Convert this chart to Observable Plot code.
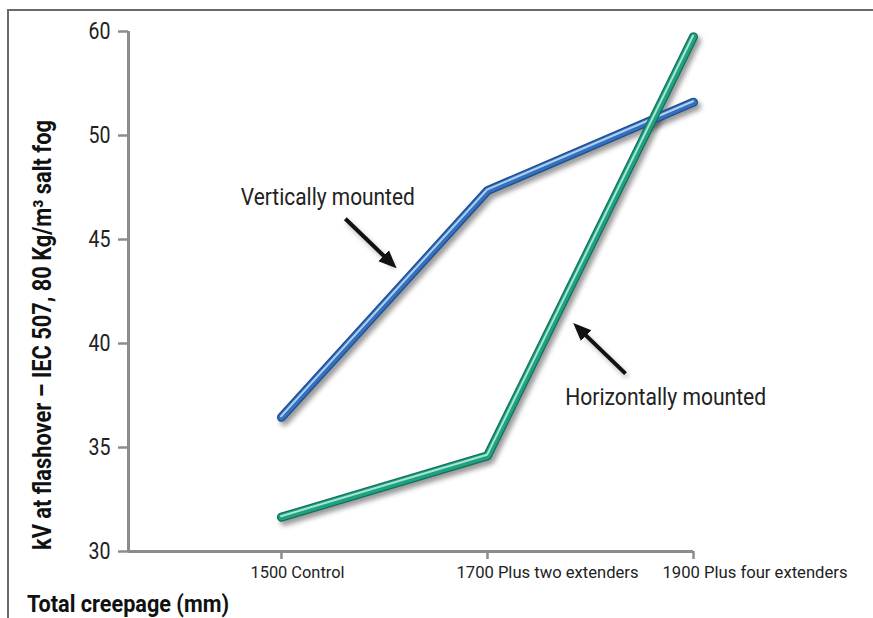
<!DOCTYPE html>
<html>
<head>
<meta charset="utf-8">
<script src="https://cdn.jsdelivr.net/npm/d3@7"></script>
<script src="https://cdn.jsdelivr.net/npm/@observablehq/plot@0.6"></script>
<style>
  html, body { margin: 0; padding: 0; background: #fff; }
  #wrap { position: relative; width: 873px; height: 618px; overflow: hidden; }
  #frame { position: absolute; left: 7px; top: 9px; right: -5px; bottom: -5px;
           border-top: 2px solid #6a6a6a; border-left: 2px solid #6a6a6a; }
  #chart { position: absolute; left: 0; top: 0; }
  svg { font-family: Roboto, "Liberation Sans", sans-serif; }
</style>
</head>
<body>
<div id="wrap"><div id="frame"></div><div id="chart"></div></div>
<script>
const categories = [1500, 1700, 1900];
const categoryLabels = ["1500 Control", "1700 Plus two extenders", "1900 Plus four extenders"];
const vertical = [36.45, 47.35, 51.6];
const horizontal = [31.65, 34.6, 54.75];
const yTicks = [30, 35, 40, 45, 50, 55];
const yTickLabels = ["30", "35", "40", "45", "50", "60"];
const xDomain = [1351.5, 1900];
const yDomain = [30, 55];
const xTitle = "Total creepage (mm)";
const yTitle = "kV at flashover – IEC 507, 80 Kg/m³ salt fog";

const annotations = [
  {label: "Vertically mounted", x: 1545, y: 47.05},
  {label: "Horizontally mounted", x: 1873, y: 37.4}
];
const arrows = [
  {x1: 1562, y1: 46.0, x2: 1608, y2: 43.8},
  {x1: 1834, y1: 38.55, x2: 1787, y2: 40.8}
];

// font size and width (px) per text, to mimic the condensed typeface of the original
const textStyle = {
  "1500 Control": [16, 94], "1700 Plus two extenders": [16, 182], "1900 Plus four extenders": [16, 185],
  "Vertically mounted": [24, 174], "Horizontally mounted": [24, 201],
  "30": [23, 22], "35": [23, 22], "40": [23, 22], "45": [23, 22], "50": [23, 22], "60": [23, 22]
};

const series = [
  {name: "Vertically mounted", values: vertical, main: "#3370bd", dark: "#1d4d8f", light: "#b3d0f0"},
  {name: "Horizontally mounted", values: horizontal, main: "#1fa182", dark: "#12705a", light: "#a6e5d3"}
];
const rows = series.flatMap(s => categories.map((c, i) => ({series: s.name, x: c, y: s.values[i]})));

const lineMarks = [];
for (const s of series) {
  const d = rows.filter(r => r.series === s.name);
  lineMarks.push(Plot.line(d, {x: "x", y: "y", stroke: "#000", strokeOpacity: 0.4, strokeWidth: 9, dx: 3, dy: 4, strokeLinejoin: "round", strokeLinecap: "round"}));
}
for (const s of series) {
  const d = rows.filter(r => r.series === s.name);
  lineMarks.push(Plot.line(d, {x: "x", y: "y", stroke: s.dark, strokeWidth: 9, strokeLinejoin: "round", strokeLinecap: "round"}));
  lineMarks.push(Plot.line(d, {x: "x", y: "y", stroke: s.main, strokeWidth: 6.5, strokeLinejoin: "round", strokeLinecap: "round"}));
  lineMarks.push(Plot.line(d, {x: "x", y: "y", stroke: s.light, strokeWidth: 2, dx: -0.5, dy: -1, strokeLinejoin: "round", strokeLinecap: "round"}));
}

const chart = Plot.plot({
  width: 873,
  height: 618,
  marginTop: 31,
  marginBottom: 67,
  marginLeft: 128,
  marginRight: 180,
  style: {background: "transparent", color: "#222", overflow: "visible"},
  x: {type: "linear", domain: xDomain, ticks: categories, tickFormat: v => categoryLabels[categories.indexOf(v)], tickSize: 8, tickPadding: 7, label: null},
  y: {domain: yDomain, ticks: yTicks, tickFormat: v => yTickLabels[yTicks.indexOf(v)], tickSize: 10, tickPadding: 8, label: null},
  marks: [
    Plot.ruleX([xDomain[0]], {y1: yDomain[0], y2: yDomain[1], stroke: "#8c8c8c", strokeWidth: 3}),
    Plot.ruleY([yDomain[0]], {x1: xDomain[0], x2: xDomain[1], stroke: "#8c8c8c", strokeWidth: 3}),
    ...lineMarks,
    Plot.link(arrows, {x1: "x1", y1: "y1", x2: "x2", y2: "y2", stroke: "#000", strokeOpacity: 0.3, strokeWidth: 4, dx: 2, dy: 3}),
    Plot.link(arrows, {x1: "x1", y1: "y1", x2: "x2", y2: "y2", stroke: "#111", strokeWidth: 4, markerEnd: "arrow"}),
    Plot.text(annotations, {x: "x", y: "y", text: "label", fontSize: 24, fill: "#222"})
  ]
});

const svg = d3.select(chart);
const defs = svg.insert("defs", ":first-child");
defs.append("filter").attr("id", "blur").attr("x", "-20%").attr("y", "-20%").attr("width", "140%").attr("height", "140%")
  .append("feGaussianBlur").attr("stdDeviation", 2.5);
// blur every shadow (black, translucent strokes)
svg.selectAll("g, path").filter(function() {
  return this.getAttribute("stroke") === "#000" && this.getAttribute("stroke-opacity") != null;
}).attr("filter", "url(#blur)");
// turn the built-in open arrowheads into filled triangles
svg.selectAll("marker").each(function() {
  d3.select(this).attr("viewBox", "-5 -5 10 10").attr("markerUnits", "userSpaceOnUse")
    .attr("markerWidth", 18).attr("markerHeight", 18).attr("refX", 2).attr("refY", 0).attr("orient", "auto");
  d3.select(this).selectAll("*").remove();
  d3.select(this).append("path").attr("d", "M-5,-4.2 L5,0 L-5,4.2 Z").attr("fill", "#111").attr("stroke", "none");
});

svg.selectAll("text").each(function() {
  const st = textStyle[this.textContent.trim()];
  if (!st) return;
  const el = d3.select(this);
  el.attr("font-size", st[0]).style("font-size", st[0] + "px");
  const tspans = el.selectAll("tspan");
  const target = tspans.empty() ? el : tspans;
  target.attr("textLength", st[1]).attr("lengthAdjust", "spacingAndGlyphs");
  if (categoryLabels.includes(this.textContent.trim())) {
    el.attr("text-anchor", "start").style("text-anchor", "start").attr("dx", -31);
  }
});
svg.selectAll('g[aria-label^="x-axis"] path, g[aria-label^="x-axis"] line, g[aria-label^="y-axis"] path, g[aria-label^="y-axis"] line')
  .attr("stroke", "#8c8c8c").attr("stroke-width", 2.5);

svg.append("text").text(xTitle)
  .attr("x", 128).attr("y", 612).attr("font-size", 24).attr("font-weight", "bold").attr("fill", "#111")
  .attr("textLength", 202).attr("lengthAdjust", "spacingAndGlyphs");
svg.append("text").text(yTitle)
  .attr("transform", "translate(51,335) rotate(-90)").attr("text-anchor", "middle")
  .attr("font-size", 25).attr("font-weight", "bold").attr("fill", "#111")
  .attr("textLength", 430).attr("lengthAdjust", "spacingAndGlyphs");

document.getElementById("chart").appendChild(chart);
</script>
</body>
</html>
